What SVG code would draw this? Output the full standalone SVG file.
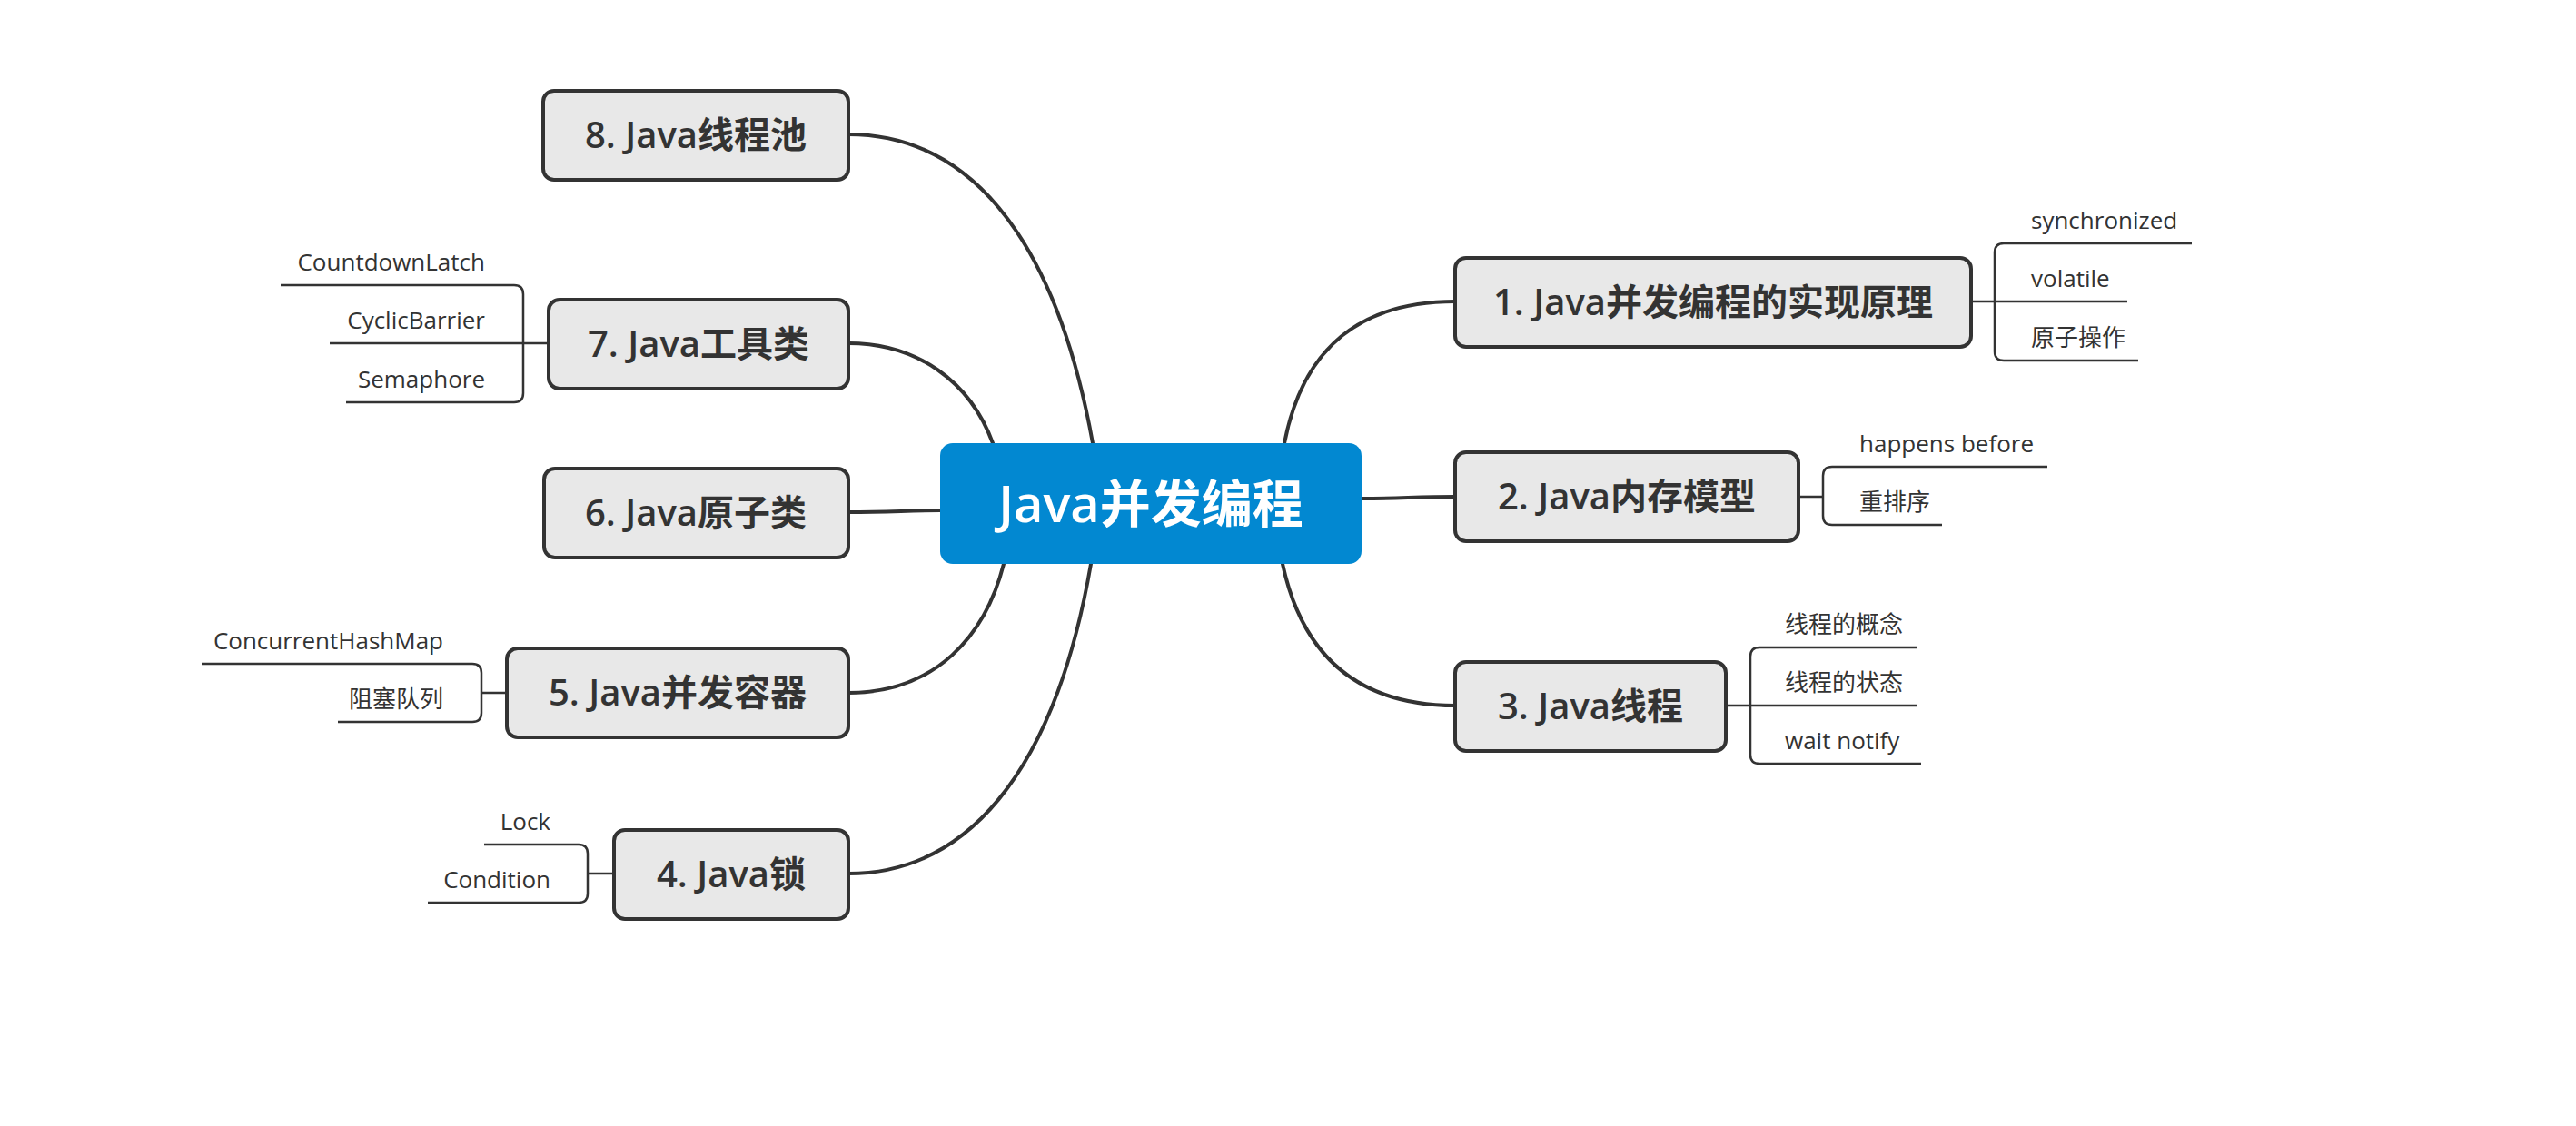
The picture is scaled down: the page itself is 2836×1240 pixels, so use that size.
<svg xmlns="http://www.w3.org/2000/svg" width="2836" height="1240" viewBox="0 0 2836 1240">
  <style>
    .topic rect { fill: #e8e8e8; stroke: #333333; stroke-width: 4; }
    .topic text { font-family: "Open Sans", "Noto Sans CJK SC", sans-serif; font-size: 40px; font-weight: 600; fill: #333333; text-anchor: middle; }
    .root rect { fill: #0288d1; }
    .root text { font-family: "Open Sans", "Noto Sans CJK SC", sans-serif; font-size: 56px; font-weight: 600; fill: #ffffff; text-anchor: middle; }
    .sub { font-family: "Open Sans", "Noto Sans CJK SC", sans-serif; font-size: 26px; fill: #333333; }
    .left { text-anchor: end; }
    .branch { fill: none; stroke: #333333; stroke-width: 4; stroke-linecap: round; }
    .twig { fill: none; stroke: #333333; stroke-width: 2.5; }
  </style>
  <rect width="2836" height="1240" fill="#ffffff"/>

  <!-- connectors: root to main topics, and topic brackets to sub-items -->
  <g id="connectors">
    <path class="branch" d="M934,148 C1060,148 1160,250 1203,488"/>
    <path class="branch" d="M934,378 C1010,378 1068,420 1093,488"/>
    <path class="branch" d="M934,564 C980,564 1000,562 1035,562"/>
    <path class="branch" d="M934,763 C1030,763 1085,700 1105,621"/>
    <path class="branch" d="M934,962 C1060,962 1160,858 1201,621"/>
    <path class="branch" d="M1602,332 C1500,332 1435,380 1414,488"/>
    <path class="branch" d="M1499,549 C1540,549 1560,547 1602,547"/>
    <path class="branch" d="M1602,777 C1500,777 1435,728 1412,621"/>

    <!-- 1 -->
    <path class="twig" d="M2413,268 H2206 Q2196,268 2196,278 V387 Q2196,397 2206,397 H2354"/>
    <path class="twig" d="M2170,332 H2342"/>
    <!-- 2 -->
    <path class="twig" d="M2254,514 H2017 Q2007,514 2007,524 V568 Q2007,578 2017,578 H2138"/>
    <path class="twig" d="M1980,547 H2007"/>
    <!-- 3 -->
    <path class="twig" d="M2110,713 H1937 Q1927,713 1927,723 V831 Q1927,841 1937,841 H2115"/>
    <path class="twig" d="M1900,777 H2110"/>
    <!-- 4 -->
    <path class="twig" d="M533,930 H637 Q647,930 647,940 V984 Q647,994 637,994 H471"/>
    <path class="twig" d="M676,962 H647"/>
    <!-- 5 -->
    <path class="twig" d="M222,731 H520 Q530,731 530,741 V785 Q530,795 520,795 H372"/>
    <path class="twig" d="M558,763 H530"/>
    <!-- 7 -->
    <path class="twig" d="M309,314 H566 Q576,314 576,324 V433 Q576,443 566,443 H381"/>
    <path class="twig" d="M604,378 H363"/>
  </g>

  <g id="root" class="root">
    <rect x="1035" y="488" width="464" height="133" rx="14"/>
    <text x="1267" y="575">Java并发编程</text>
  </g>

  <g id="topic-1" class="topic">
    <rect x="1602" y="284" width="568" height="98" rx="12"/>
    <text x="1886" y="347">1. Java并发编程的实现原理</text>
  </g>
  <g id="topic-2" class="topic">
    <rect x="1602" y="498" width="378" height="98" rx="12"/>
    <text x="1791" y="561">2. Java内存模型</text>
  </g>
  <g id="topic-3" class="topic">
    <rect x="1602" y="729" width="298" height="98" rx="12"/>
    <text x="1751" y="792">3. Java线程</text>
  </g>
  <g id="topic-4" class="topic">
    <rect x="676" y="914" width="258" height="98" rx="12"/>
    <text x="805" y="977">4. Java锁</text>
  </g>
  <g id="topic-5" class="topic">
    <rect x="558" y="714" width="376" height="98" rx="12"/>
    <text x="746" y="777">5. Java并发容器</text>
  </g>
  <g id="topic-6" class="topic">
    <rect x="599" y="516" width="335" height="98" rx="12"/>
    <text x="766" y="579">6. Java原子类</text>
  </g>
  <g id="topic-7" class="topic">
    <rect x="604" y="330" width="330" height="98" rx="12"/>
    <text x="769" y="393">7. Java工具类</text>
  </g>
  <g id="topic-8" class="topic">
    <rect x="598" y="100" width="336" height="98" rx="12"/>
    <text x="766" y="163">8. Java线程池</text>
  </g>

  <g id="items-1">
    <text class="sub" x="2236" y="252">synchronized</text>
    <text class="sub" x="2236" y="316">volatile</text>
    <text class="sub" x="2236" y="381">原子操作</text>
  </g>
  <g id="items-2">
    <text class="sub" x="2047" y="498">happens before</text>
    <text class="sub" x="2047" y="562">重排序</text>
  </g>
  <g id="items-3">
    <text class="sub" x="1965" y="697">线程的概念</text>
    <text class="sub" x="1965" y="761">线程的状态</text>
    <text class="sub" x="1965" y="825">wait notify</text>
  </g>
  <g id="items-4">
    <text class="sub left" x="606" y="914">Lock</text>
    <text class="sub left" x="606" y="978">Condition</text>
  </g>
  <g id="items-5">
    <text class="sub left" x="488" y="715">ConcurrentHashMap</text>
    <text class="sub left" x="488" y="779">阻塞队列</text>
  </g>
  <g id="items-7">
    <text class="sub left" x="534" y="298">CountdownLatch</text>
    <text class="sub left" x="534" y="362">CyclicBarrier</text>
    <text class="sub left" x="534" y="427">Semaphore</text>
  </g>
</svg>
